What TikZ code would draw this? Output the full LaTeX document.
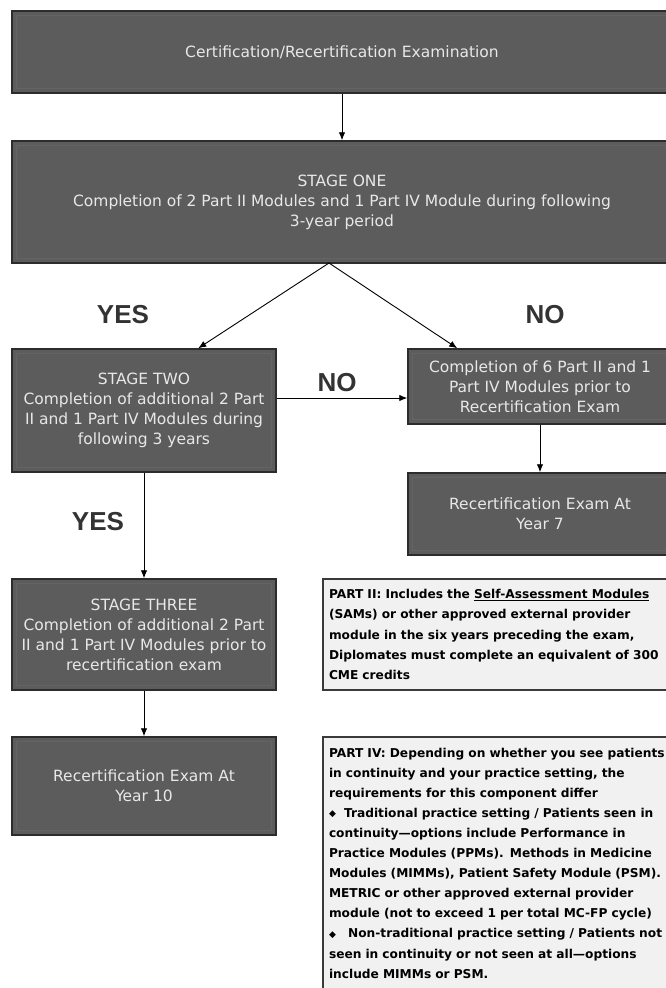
\documentclass[tikz,border=0pt]{standalone}
\usepackage{fontspec}
\setmainfont{DejaVu Sans}
\newfontfamily\labfont{Liberation Sans}
\usetikzlibrary{arrows.meta}
\definecolor{boxfill}{HTML}{5C5C5C}
\definecolor{boxline}{HTML}{2C2C2C}
\definecolor{boxtext}{HTML}{E8E8E8}
\definecolor{bevel}{HTML}{646464}
\definecolor{notefill}{HTML}{F1F1F1}
\definecolor{noteline}{HTML}{3A3A3A}
\definecolor{labcol}{HTML}{333333}
\newcommand{\dmd}{{\fontsize{9}{9}\selectfont\raisebox{0.8pt}{◆}}}
\begin{document}
\begin{tikzpicture}[x=1pt,y=-1pt,
  darkbox/.style={draw=boxline, line width=1.5pt, fill=boxfill, text=boxtext, align=center,
    font=\fontsize{15.5}{20}\selectfont, inner sep=0pt, anchor=center},
  notebox/.style={draw=noteline, line width=1.5pt, fill=notefill, text=black, align=left,
    font=\bfseries\fontsize{12.2}{20.1}\selectfont, inner xsep=6pt, inner ysep=0pt, text width=337pt, anchor=center},
  arr/.style={-{Latex[length=8pt,width=6.5pt]}, line width=0.9pt, draw=black},
  yn/.style={font=\labfont\bfseries\fontsize{26}{26}\selectfont, text=labcol, inner sep=0pt},
  bevelline/.style={draw=bevel, line width=0.8pt}
]
\useasboundingbox (0,0) rectangle (665,988);
\fill[white] (0,0) rectangle (665,988);

% dark process boxes
\node[darkbox, minimum width=660pt, minimum height=82pt] (top) at (342,52)
  {Certification/Recertification Examination};
\node[darkbox, minimum width=660pt, minimum height=122pt] (stage1) at (342,202)
  {STAGE ONE\\Completion of 2 Part II Modules and 1 Part IV Module during following\\3-year period};
\node[darkbox, minimum width=264pt, minimum height=123pt] (stage2) at (144,410.5)
  {STAGE TWO\\Completion of additional 2 Part\\II and 1 Part IV Modules during\\following 3 years};
\node[darkbox, minimum width=264pt, minimum height=75pt] (nobox) at (540,386.5)
  {Completion of 6 Part II and 1\\Part IV Modules prior to\\Recertification Exam};
\node[darkbox, minimum width=264pt, minimum height=82pt] (y7) at (540,514)
  {Recertification Exam At\\Year 7};
\node[darkbox, minimum width=264pt, minimum height=111pt] (stage3) at (144,634.5)
  {STAGE THREE\\Completion of additional 2 Part\\II and 1 Part IV Modules prior to\\recertification exam};
\node[darkbox, minimum width=264pt, minimum height=98pt] (y10) at (144,786)
  {Recertification Exam At\\Year 10};

% subtle inner bevel of the dark boxes
\foreach \n in {top,stage1,stage2,nobox,y7,stage3,y10}{
  \draw[bevelline] ([shift={(5pt,-5pt)}]\n.north west) rectangle ([shift={(-5pt,5pt)}]\n.south east);
}

% note boxes
\node[notebox, minimum height=111pt] (part2) at (497.5,634.5)
  {PART II: Includes the \underline{Self-Assessment Modules}\\
   (SAMs) or other approved external provider\\
   module in the six years preceding the exam,\\
   Diplomates must complete an equivalent of 300\\
   CME credits};
\node[notebox, minimum height=252pt] (part4) at (497.5,863)
  {PART IV: Depending on whether you see patients\\
   in continuity and your practice setting, the\\
   requirements for this component differ\\
   \dmd\ \ Traditional practice setting / Patients seen in\\
   continuity—options include Performance in\\
   Practice Modules (PPMs). Methods in Medicine\\
   Modules (MIMMs), Patient Safety Module (PSM).\\
   METRIC or other approved external provider\\
   module (not to exceed 1 per total MC-FP cycle)\\
   \dmd\ \ \ Non-traditional practice setting / Patients not\\
   seen in continuity or not seen at all—options\\
   include MIMMs or PSM.};

% connectors
\coordinate (apex) at (329,263);
\draw[arr] (top) -- (stage1);
\draw[arr] (apex) -- ([xshift=187pt]stage2.north west);
\draw[arr] (apex) -- ([xshift=50pt]nobox.north west);
\draw[arr] ([yshift=12.5pt]stage2.east) coordinate (s2e) -- (s2e -| nobox.west);
\draw[arr] (nobox) -- (y7);
\draw[arr] (stage2) -- (stage3);
\draw[arr] (stage3) -- (y10);

% labels
\node[yn] (yes1) at (123,315) {YES};
\node[yn] (no1) at (545,315) {NO};
\node[yn] (no2) at (337,383) {NO};
\node[yn] (yes2) at (98,522) {YES};
\end{tikzpicture}
\end{document}
